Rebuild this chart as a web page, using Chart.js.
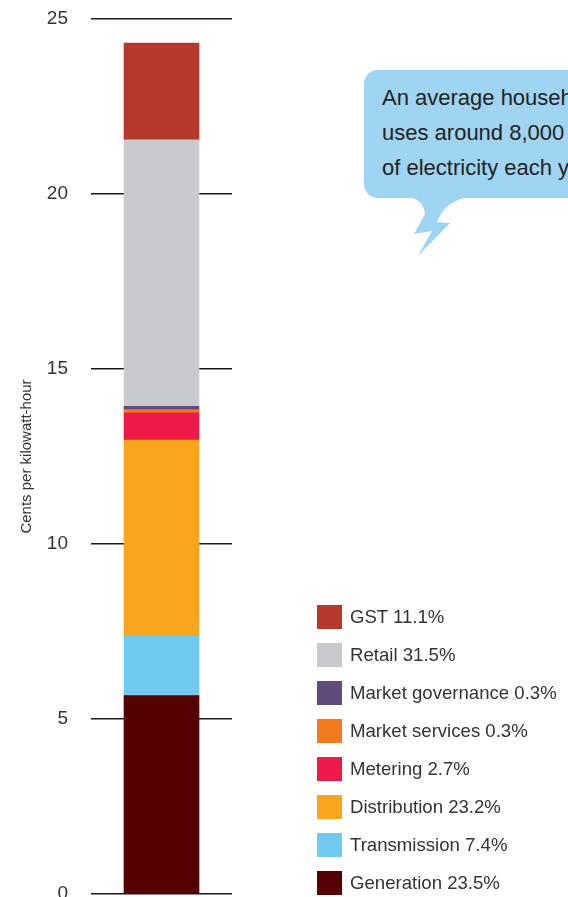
<!DOCTYPE html>
<html>
<head>
<meta charset="utf-8">
<script src="https://cdn.jsdelivr.net/npm/chart.js@4.4.0/dist/chart.umd.min.js"></script>
<style>
  html, body { margin: 0; padding: 0; background: #fff; overflow: hidden; }
  body {
    width: 568px; height: 897px; position: relative;
    font-family: "Liberation Sans", Arial, sans-serif; color: #333;
  }
  #chartBox { position: absolute; left: 0; top: 0; width: 240px; height: 910px; }
  #tail { position: absolute; left: 0; top: 0; width: 568px; height: 897px; pointer-events: none; }
  .bubble {
    position: absolute; left: 364px; top: 70px; width: 280px; height: 128px;
    background: #9fd4f2; border-radius: 14px; box-sizing: border-box;
    padding: 10px 0 0 18px; font-size: 22px; line-height: 35px; color: #222;
    white-space: nowrap;
  }
  #legend { position: absolute; left: 317px; top: 605px; margin: 0; padding: 0; list-style: none; }
  #legend li { display: flex; align-items: center; height: 24px; margin-bottom: 14px; font-size: 18.6px; color: #333; white-space: nowrap; }
  #legend .legend-box { width: 25px; height: 24px; margin-right: 8px; flex: none; }
</style>
</head>
<body>
<div id="chartBox"><canvas id="costChart"></canvas></div>

<svg id="tail" viewBox="0 0 568 897">
  <path d="M406 197 Q423 198 425 214 L414 234 L432 231 L418 256 L450 223 L437 222 Q446 199 472 197 Z" fill="#9fd4f2"/>
</svg>
<div class="bubble">An average household<br>uses around 8,000 kWh<br>of electricity each year.</div>

<ul id="legend"></ul>

<script>
// cost components, bottom of the bar first
const components = ["Generation", "Transmission", "Distribution", "Metering",
  "Market services", "Market governance", "Retail", "GST"];
const centsPerKwh = [5.67, 1.71, 5.59, 0.78, 0.09, 0.09, 7.62, 2.76];
const sharePct = [23.5, 7.4, 23.2, 2.7, 0.3, 0.3, 31.5, 11.1];
const yTicks = [0, 5, 10, 15, 20, 25];

const colours = ["#540000", "#6fc9f1", "#f9a51e", "#ee1b4a",
  "#f47a20", "#614a7c", "#c9cacd", "#b5382a"];

const FONT = "'Liberation Sans', Arial, sans-serif";

// legend lists the top of the stack first
function buildLegend() {
  const list = document.getElementById("legend");
  for (let i = components.length - 1; i >= 0; i--) {
    const li = document.createElement("li");
    const box = document.createElement("span");
    box.className = "legend-box";
    box.style.background = colours[i];
    const text = document.createElement("span");
    text.textContent = `${components[i]} ${sharePct[i].toFixed(1)}%`;
    li.appendChild(box);
    li.appendChild(text);
    list.appendChild(li);
  }
}

const datasets = components.map((name, i) => ({
  label: name,
  data: [centsPerKwh[i]],
  backgroundColor: colours[i],
  borderWidth: 0,
  barThickness: 75,
}));

new Chart(document.getElementById("costChart"), {
  type: "bar",
  data: { labels: [""], datasets },
  options: {
    responsive: true,
    maintainAspectRatio: false,
    animation: false,
    layout: { padding: { top: 19, bottom: 16, left: 0, right: 8 } },
    plugins: { legend: { display: false }, tooltip: { enabled: false } },
    scales: {
      x: { stacked: true, display: false },
      y: {
        stacked: true,
        min: yTicks[0],
        max: yTicks[yTicks.length - 1],
        afterBuildTicks: (scale) => { scale.ticks = yTicks.map((v) => ({ value: v })); },
        afterFit: (scale) => {
          // fixed axis width; let the outer labels hang past the plot edges
          scale.width = 91;
          scale.paddingTop = 0;
          scale.paddingBottom = 0;
        },
        border: { display: false },
        grid: { color: "#1a1a1a", lineWidth: 1.5, drawTicks: false },
        ticks: { padding: 23, color: "#333", font: { family: FONT, size: 19 } },
        title: {
          display: true,
          text: "Cents per kilowatt-hour",
          color: "#333",
          font: { family: FONT, size: 15 },
          padding: { top: 18, bottom: 0 },
        },
      },
    },
  },
});

buildLegend();
</script>
</body>
</html>
